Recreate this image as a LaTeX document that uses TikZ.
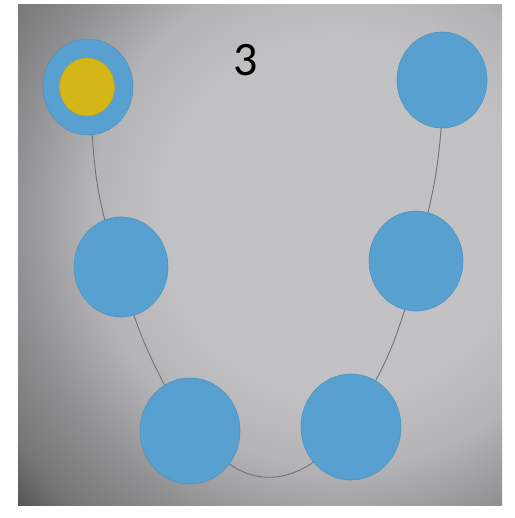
\documentclass[tikz,border=0pt]{standalone}
\usepackage{fontspec}
\setmainfont{Carlito}
\usetikzlibrary{shapes.geometric}
\definecolor{dotblue}{RGB}{88,160,207}
\definecolor{dotedge}{RGB}{78,146,192}
\definecolor{dotyellow}{RGB}{212,182,22}
\definecolor{linegray}{RGB}{115,115,118}
\definecolor{gA}{RGB}{194,194,196}
\definecolor{gB}{RGB}{180,180,182}
\definecolor{gC}{RGB}{142,142,144}
\definecolor{gD}{RGB}{118,118,119}
\definecolor{gE}{RGB}{74,76,76}
\pgfdeclareradialshading{paper}{\pgfpoint{0bp}{0bp}}{color(0bp)=(gA); color(170bp)=(gA); color(250bp)=(gB); color(330bp)=(gC); color(390bp)=(gD); color(440bp)=(gE)}
\tikzset{
  dot/.style={ellipse, fill=dotblue, draw=dotedge, line width=0.6pt, inner sep=0pt},
  dotS/.style={dot, minimum width=90pt, minimum height=96pt},
  dotM/.style={dot, minimum width=94pt, minimum height=100pt},
  dotL/.style={dot, minimum width=100pt, minimum height=106pt},
  core/.style={ellipse, fill=dotyellow, draw=dotyellow!90!black, line width=0.4pt, inner sep=0pt, minimum width=55pt, minimum height=58pt},
  string/.style={draw=linegray, line width=0.9pt},
  numlabel/.style={font=\fontsize{48}{50}\selectfont, text=black}
}
\begin{document}
\begin{tikzpicture}[x=1pt,y=1pt]
\useasboundingbox (0,0) rectangle (514,518);
\fill[white] (0,0) rectangle (514,518);
\begin{scope}
  \clip (18,12) rectangle (502,513);
  \node[inner sep=0pt, outer sep=0pt] (paper) at (340,300) {\pgfuseshading{paper}};
\end{scope}
% dots
\node[dotS] (tl) at (88,431) {};
\node[core] (tly) at (87,431) {};
\node[dotS] (tr) at (442,438) {};
\node[dotM] (lm) at (121,251) {};
\node[dotM] (rm) at (416,257) {};
\node[dotL] (bl) at (190,87) {};
\node[dotL] (br) at (351,91) {};
\node[numlabel] (num) at (246,458) {3};
% string joining the dots
\draw[string] (tl.-85) to[out=-86,in=104] (lm.109);
\draw[string] (lm.-75) to[out=-71,in=117] (bl.119);
\draw[string] (bl.-40) to[out=-35,in=-145] (br.-137);
\draw[string] (br.62) to[out=62,in=-108] (rm.-103);
\draw[string] (rm.76) to[out=77,in=-95] (tr.-91);
\end{tikzpicture}
\end{document}
